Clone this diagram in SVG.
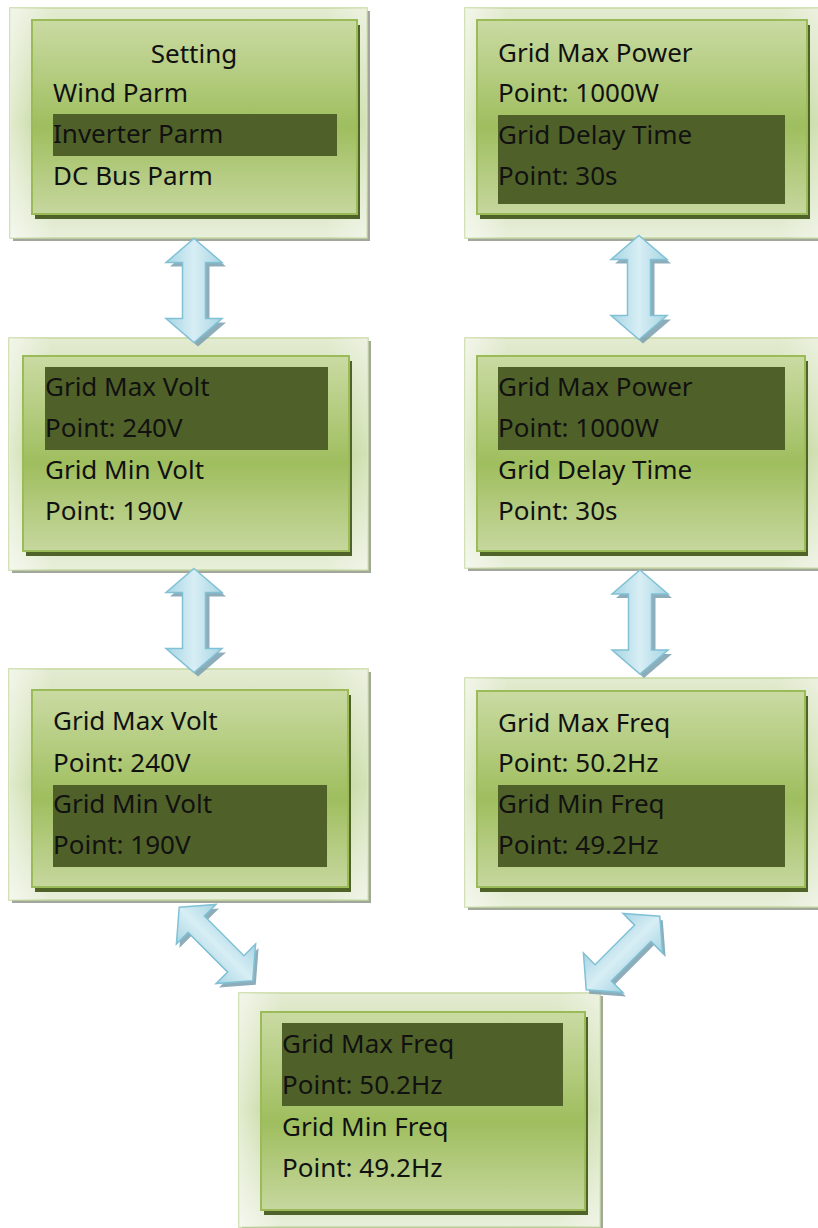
<svg xmlns="http://www.w3.org/2000/svg" xmlns:xlink="http://www.w3.org/1999/xlink" width="818" height="1228" viewBox="0 0 818 1228">
<defs>
<linearGradient id="gOuter" x1="0" y1="0" x2="0" y2="1">
<stop offset="0" stop-color="#e3ebd1"/>
<stop offset="0.5" stop-color="#bdd392"/>
<stop offset="1" stop-color="#e8efdb"/>
</linearGradient>
<linearGradient id="gOuterH" x1="0" y1="0" x2="1" y2="0">
<stop offset="0" stop-color="#ffffff" stop-opacity="0.55"/>
<stop offset="0.12" stop-color="#ffffff" stop-opacity="0"/>
<stop offset="0.88" stop-color="#ffffff" stop-opacity="0"/>
<stop offset="1" stop-color="#ffffff" stop-opacity="0.35"/>
</linearGradient>
<linearGradient id="gInner" x1="0" y1="0" x2="0" y2="1">
<stop offset="0" stop-color="#cadba3"/>
<stop offset="0.55" stop-color="#9fbe5e"/>
<stop offset="1" stop-color="#c6d79e"/>
</linearGradient>
<linearGradient id="gArrow" x1="0" y1="0" x2="1" y2="0">
<stop offset="0" stop-color="#a6d5e3"/>
<stop offset="0.5" stop-color="#d8eef5"/>
<stop offset="1" stop-color="#a6d5e3"/>
</linearGradient>
<path id="arr" d="M0,-52 L28,-28 L11.5,-28 L11.5,28 L28,28 L0,52 L-28,28 L-11.5,28 L-11.5,-28 L-28,-28 Z"/>
</defs>
<style>
.oshadow{fill:#a2a79c}
.outer{fill:url(#gOuter);stroke:#c5d79f;stroke-width:1.5}
.outerh{fill:url(#gOuterH)}
.ishadow{fill:#4f6228}
.inner{fill:url(#gInner);stroke:#9bbb59;stroke-width:2}
.hl{fill:#4f6128}
text{font-family:"Noto Sans","Liberation Sans",sans-serif;font-size:26px;fill:#111}
.ashadow{fill:#7a9fae;opacity:0.85}
.arrow{fill:url(#gArrow);stroke:#80c1d5;stroke-width:1.5}
</style>
<rect width="818" height="1228" fill="#ffffff"/>

<g id="node-setting">
<rect class="oshadow" x="13" y="11" width="357" height="230"/>
<rect class="outer" x="10" y="8" width="357" height="230"/>
<rect class="outerh" x="10" y="8" width="357" height="230"/>
<rect class="ishadow" x="35" y="25" width="325" height="194"/>
<rect class="inner" x="32" y="20" width="325" height="194"/>
<rect class="hl" x="53" y="114" width="284" height="42"/>
<text x="194" y="63" text-anchor="middle">Setting</text>
<text x="53" y="102">Wind Parm</text>
<text x="53" y="143">Inverter Parm</text>
<text x="53" y="185">DC Bus Parm</text>
</g>

<g id="node-power-delay">
<rect class="oshadow" x="468" y="11" width="357" height="230"/>
<rect class="outer" x="465" y="8" width="357" height="230"/>
<rect class="outerh" x="465" y="8" width="357" height="230"/>
<rect class="ishadow" x="480" y="25" width="330" height="194"/>
<rect class="inner" x="477" y="20" width="330" height="194"/>
<rect class="hl" x="498" y="115" width="287" height="89"/>
<text x="498" y="62">Grid Max Power</text>
<text x="498" y="102">Point: 1000W</text>
<text x="498" y="144">Grid Delay Time</text>
<text x="498" y="185">Point: 30s</text>
</g>

<g id="node-maxvolt">
<rect class="oshadow" x="12" y="341" width="359" height="232"/>
<rect class="outer" x="9" y="338" width="359" height="232"/>
<rect class="outerh" x="9" y="338" width="359" height="232"/>
<rect class="ishadow" x="26" y="361" width="326" height="195"/>
<rect class="inner" x="23" y="356" width="326" height="195"/>
<rect class="hl" x="45" y="367" width="283" height="83"/>
<text x="45" y="396">Grid Max Volt</text>
<text x="45" y="437">Point: 240V</text>
<text x="45" y="479">Grid Min Volt</text>
<text x="45" y="520">Point: 190V</text>
</g>

<g id="node-maxpower">
<rect class="oshadow" x="468" y="341" width="357" height="230"/>
<rect class="outer" x="465" y="338" width="357" height="230"/>
<rect class="outerh" x="465" y="338" width="357" height="230"/>
<rect class="ishadow" x="480" y="361" width="328" height="195"/>
<rect class="inner" x="477" y="356" width="328" height="195"/>
<rect class="hl" x="498" y="367" width="287" height="83"/>
<text x="498" y="396">Grid Max Power</text>
<text x="498" y="437">Point: 1000W</text>
<text x="498" y="479">Grid Delay Time</text>
<text x="498" y="520">Point: 30s</text>
</g>

<g id="node-minvolt">
<rect class="oshadow" x="12" y="672" width="359" height="231"/>
<rect class="outer" x="9" y="669" width="359" height="231"/>
<rect class="outerh" x="9" y="669" width="359" height="231"/>
<rect class="ishadow" x="35" y="695" width="316" height="197"/>
<rect class="inner" x="32" y="690" width="316" height="197"/>
<rect class="hl" x="53" y="785" width="274" height="82"/>
<text x="53" y="730">Grid Max Volt</text>
<text x="53" y="772">Point: 240V</text>
<text x="53" y="813">Grid Min Volt</text>
<text x="53" y="854">Point: 190V</text>
</g>

<g id="node-minfreq">
<rect class="oshadow" x="468" y="681" width="357" height="229"/>
<rect class="outer" x="465" y="678" width="357" height="229"/>
<rect class="outerh" x="465" y="678" width="357" height="229"/>
<rect class="ishadow" x="480" y="696" width="328" height="196"/>
<rect class="inner" x="477" y="691" width="328" height="196"/>
<rect class="hl" x="498" y="785" width="287" height="82"/>
<text x="498" y="732">Grid Max Freq</text>
<text x="498" y="772">Point: 50.2Hz</text>
<text x="498" y="813">Grid Min Freq</text>
<text x="498" y="854">Point: 49.2Hz</text>
</g>

<g id="node-maxfreq">
<rect class="oshadow" x="242" y="996" width="361" height="234"/>
<rect class="outer" x="239" y="993" width="361" height="234"/>
<rect class="outerh" x="239" y="993" width="361" height="234"/>
<rect class="ishadow" x="264" y="1017" width="324" height="198"/>
<rect class="inner" x="261" y="1012" width="324" height="198"/>
<rect class="hl" x="282" y="1023" width="281" height="83"/>
<text x="282" y="1053">Grid Max Freq</text>
<text x="282" y="1094">Point: 50.2Hz</text>
<text x="282" y="1136">Grid Min Freq</text>
<text x="282" y="1177">Point: 49.2Hz</text>
</g>

<g id="connectors">
<g transform="translate(194,290.5)"><use href="#arr" class="ashadow" x="4" y="4"/><use href="#arr" class="arrow"/></g>
<g transform="translate(194,620.5)"><use href="#arr" class="ashadow" x="4" y="4"/><use href="#arr" class="arrow"/></g>
<g transform="translate(639,287.5)"><use href="#arr" class="ashadow" x="4" y="4"/><use href="#arr" class="arrow"/></g>
<g transform="translate(640,622)"><use href="#arr" class="ashadow" x="4" y="4"/><use href="#arr" class="arrow"/></g>
<g transform="translate(216,944)"><use href="#arr" class="ashadow" transform="translate(3,4) rotate(-45)"/><use href="#arr" class="arrow" transform="rotate(-45)"/></g>
<g transform="translate(623,953)"><use href="#arr" class="ashadow" transform="translate(3,4) rotate(45)"/><use href="#arr" class="arrow" transform="rotate(45)"/></g>
</g>
</svg>
